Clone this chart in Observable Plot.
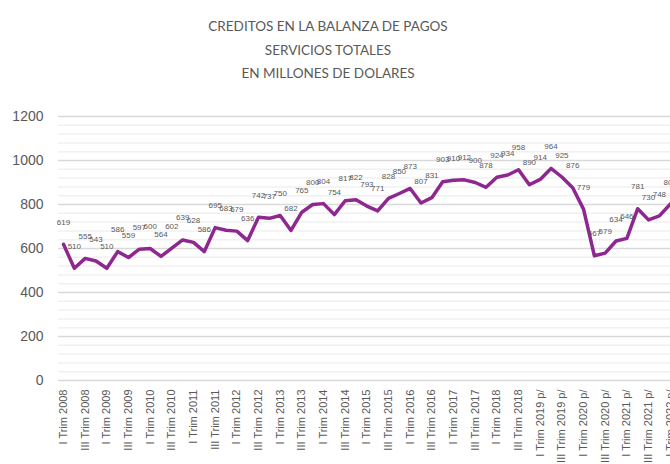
<!DOCTYPE html>
<html><head><meta charset="utf-8">
<script src="https://cdn.jsdelivr.net/npm/d3@7"></script>
<script src="https://cdn.jsdelivr.net/npm/@observablehq/plot@0.6"></script>
<style>
body{margin:0;background:#fff;width:670px;height:464px;overflow:hidden;}
#title{height:100px;box-sizing:border-box;padding-top:15px;text-align:center;font-family:Lato,"Liberation Sans",sans-serif;font-size:13.5px;line-height:23.5px;color:#595959;width:656px}
</style></head><body>
<div id="title">CREDITOS EN LA BALANZA DE PAGOS<br>SERVICIOS TOTALES<br>EN MILLONES DE DOLARES</div>
<div id="chart"></div>
<script>
const values = [619,510,555,543,510,586,559,597,600,564,602,639,628,586,695,683,679,636,742,737,750,682,765,800,804,754,817,822,793,771,828,850,873,807,831,903,910,912,900,878,924,934,958,890,914,964,925,876,779,567,579,634,646,781,730,748,802];
const tickLabels = ["I Trim 2008","III Trim 2008","I Trim 2009","III Trim 2009","I Trim 2010","III Trim 2010","I Trim 2011","III Trim 2011","I Trim 2012","III Trim 2012","I Trim 2013","III Trim 2013","I Trim 2014","III Trim 2014","I Trim 2015","III Trim 2015","I Trim 2016","III Trim 2016","I Trim 2017","III Trim 2017","I Trim 2018","III Trim 2018","I Trim 2019 p/","III Trim 2019 p/","I Trim 2020 p/","III Trim 2020 p/","I Trim 2021 p/","III Trim 2021 p/","I Trim 2022 p/"];
const yTicks = [0,200,400,600,800,1000,1200];

const data = values.map((v,i)=>({i,v}));
const tickIdx = tickLabels.map((_,k)=>k*2);
const minor = d3.range(0,1201,40).filter(d=>d%200!==0);

const chart = Plot.plot({
  width:670, height:364,
  marginTop:16, marginBottom:84, marginLeft:58, marginRight:0,
  style:{fontFamily:"'Liberation Sans',Arial,sans-serif", color:"#595959", background:"#fff", overflow:"hidden"},
  x:{type:"linear", domain:[0,values.length-1], range:[63,669.7]},
  y:{domain:[0,1200]},
  marks:[
    Plot.ruleY(minor,{stroke:"#f0f0f0",strokeWidth:1.5}),
    Plot.ruleY(yTicks,{stroke:"#d9d9d9",strokeWidth:1.5}),
    Plot.axisY(yTicks,{tickSize:0, tickPadding:15, fontSize:14, fill:"#595959", tickFormat:d=>String(d), label:null}),
    Plot.axisX(tickIdx,{tickSize:0, tickRotate:-90, textAnchor:"end", tickPadding:9, fontSize:11, fill:"#595959", tickFormat:d=>tickLabels[d/2], label:null}),
    Plot.line(data,{x:"i",y:"v",stroke:"#8e278f",strokeWidth:3.5,strokeLinejoin:"round"}),
    Plot.text(data,{x:"i",y:"v",text:d=>String(d.v),dy:-22,fontSize:8,fill:"#595959"})
  ]
});
document.getElementById("chart").appendChild(chart);
</script>
</body></html>
